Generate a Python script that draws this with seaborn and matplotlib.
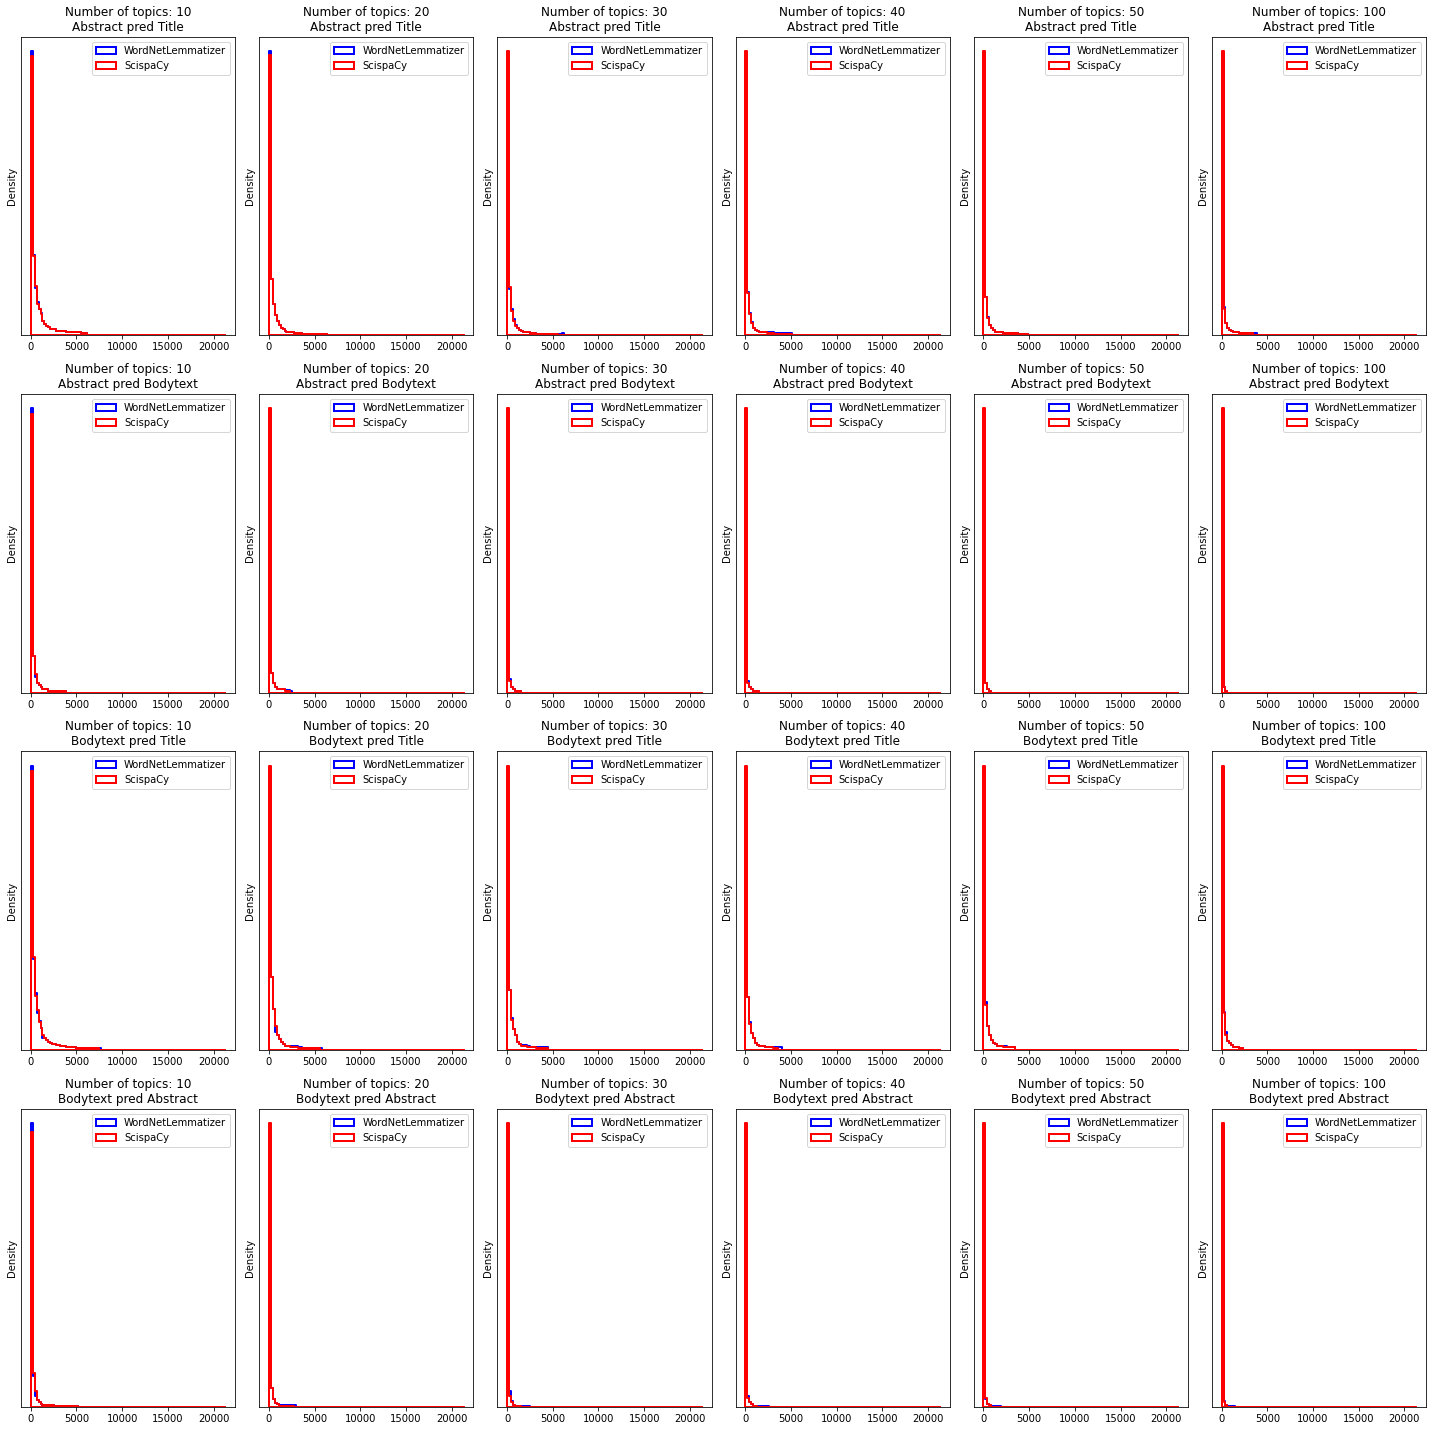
import matplotlib
matplotlib.use("Agg")
import matplotlib.pyplot as plt
import numpy as np
import seaborn as sns

topics = [10, 20, 30, 40, 50, 100]
tasks = [
    "Abstract pred Title",
    "Abstract pred Bodytext",
    "Bodytext pred Title",
    "Bodytext pred Abstract",
]
max_value = 21300
n_bins = 100

# relative height per bin (first bins only, all later bins are ~0)
wordnet_abs_title = {
    10: [100, 28.2, 16.5, 11.6, 9.2, 7.7, 4.9, 3.9, 3.2, 2.8, 2.1, 2.1, 2.1, 1.4, 1.4, 1.4, 1.4, 1.4,
         1.1, 1.1, 1.1, 1.1, 1.1, 1.1, 1.1, 1.1, 0.7, 0.7, 0.7],
    20: [100, 19.7, 10.9, 7.0, 4.9, 3.5, 2.5, 2.1, 1.4, 1.1, 1.1, 1.1, 1.1, 0.7, 0.7, 0.7, 0.7,
         0.35, 0.35, 0.35, 0.35, 0.35, 0.35, 0.35, 0.35, 0.35, 0.35, 0.35, 0.35, 0.35],
    30: [99, 16.2, 9.2, 5.6, 3.5, 2.5, 1.8, 1.4, 1.1, 1.1, 1.1, 1.1, 0.7, 0.7, 0.7,
         0.35, 0.35, 0.35, 0.35, 0.35, 0.35, 0.35, 0.35, 0.35, 0.35, 0.35, 0.35, 0.35, 0.7],
    40: [99, 15.1, 7.7, 4.6, 2.5, 1.8, 1.4, 1.1, 1.1, 1.1, 1.1, 1.1, 1.1, 1.1, 1.1,
         0.7, 0.7, 0.7, 0.7, 0.7, 0.7, 0.7, 0.7, 0.7],
    50: [99, 13.4, 6.3, 3.5, 2.5, 1.8, 1.1, 1.1, 1.1, 1.1, 0.7, 0.7, 0.7, 0.7, 0.7, 0.7, 0.7, 0.7,
         0.5, 0.5, 0.5, 0.5, 0.5],
    100: [99, 9.9, 4.2, 2.5, 1.8, 1.4, 1.1, 1.1, 1.1, 0.7, 0.7, 0.7, 0.7, 0.7, 0.7, 0.7, 0.7, 0.7],
}
scispacy_abs_title = {
    10: [98.2, 27.8, 17.3, 10.9, 9.2, 7.4, 4.9, 3.9, 3.2, 2.8, 2.1, 2.1, 2.1, 1.4, 1.4, 1.4, 1.4, 1.4,
         1.1, 1.1, 1.1, 1.1, 1.1, 1.1, 1.1, 1.1, 0.7, 0.7, 0.7],
    20: [98.5, 19.7, 10.9, 7.0, 4.9, 3.5, 2.5, 2.1, 1.4, 1.1, 1.1, 1.1, 1.1, 0.7, 0.7, 0.7, 0.7,
         0.35, 0.35, 0.35, 0.35, 0.35, 0.35, 0.35, 0.35, 0.35, 0.35, 0.35, 0.35, 0.35],
    30: [100, 16.9, 8.5, 4.9, 3.2, 2.5, 1.8, 1.4, 1.1, 1.1, 1.1, 1.1, 0.7, 0.7, 0.7,
         0.35, 0.35, 0.35, 0.35, 0.35, 0.35, 0.35, 0.35, 0.35, 0.35, 0.35],
    40: [100, 14.8, 7.4, 4.2, 2.5, 1.8, 1.4, 1.1, 1.1, 1.1, 1.1, 0.7, 0.7, 0.7, 0.7,
         0.35, 0.35, 0.35, 0.35, 0.35, 0.35, 0.35, 0.35, 0.35],
    50: [100, 13.4, 6.0, 3.5, 2.5, 1.8, 1.1, 1.1, 1.1, 1.1, 0.7, 0.7, 0.7, 0.7, 0.7, 0.7, 0.7, 0.7,
         0.35, 0.35, 0.35, 0.35, 0.35],
    100: [100, 9.2, 4.2, 2.5, 1.8, 1.4, 1.1, 1.1, 1.1, 0.7, 0.7, 0.7, 0.7, 0.7, 0.7, 0.7],
}

wordnet_abs_body = {
    10: [100, 12.7, 5.6, 3.5, 2.5, 1.8, 1.4, 1.1, 1.1, 0.7, 0.7, 0.7, 0.7, 0.7, 0.7, 0.7, 0.7, 0.7],
    20: [99, 7.0, 3.5, 1.8, 1.4, 1.1, 1.1, 1.1, 0.9, 0.9, 0.9, 0.7],
    30: [99, 4.9, 2.1, 1.4, 0.7, 0.7, 0.7],
    40: [99, 3.9, 1.8, 1.1, 0.7, 0.7, 0.7],
    50: [99, 3.2, 1.4, 0.7],
    100: [99, 2.1, 0.7],
}
scispacy_abs_body = {
    10: [98, 12.7, 6.7, 3.5, 2.5, 1.8, 1.4, 1.1, 1.1, 0.7, 0.7, 0.7, 0.7, 0.7, 0.7, 0.7, 0.7, 0.7],
    20: [100, 7.0, 3.5, 1.8, 1.4, 1.1, 1.1, 1.1, 0.7, 0.7, 0.7],
    30: [100, 4.2, 2.1, 1.4, 0.7, 0.7, 0.7],
    40: [100, 3.5, 1.8, 1.1, 0.7, 0.7, 0.7],
    50: [100, 3.2, 1.4, 0.7],
    100: [100, 1.8, 0.7],
}

wordnet_body_title = {
    10: [100, 32.0, 20.1, 13.0, 10.2, 7.7, 4.2, 4.2, 3.5, 2.8, 2.5, 2.1, 2.1, 1.8, 1.8, 1.4, 1.4, 1.4,
         1.1, 1.1, 1.1, 1.1, 1.1, 0.7, 0.7, 0.7,
         0.5, 0.5, 0.5, 0.5, 0.5, 0.5, 0.5, 0.5, 0.5, 0.7],
    20: [99, 25.7, 14.4, 6.3, 5.3, 3.9, 2.8, 2.1, 1.4, 1.4, 1.4, 1.4, 1.4, 1.4, 1.4, 1.1, 1.1,
         0.7, 0.7, 0.7, 0.7, 0.7, 0.7, 0.7, 0.7, 0.7, 0.7],
    30: [99, 21.1, 11.3, 7.4, 5.3, 2.8, 2.1, 1.8, 1.8, 1.8,
         1.4, 1.4, 1.1, 1.1, 1.1, 1.1, 0.9, 0.9, 0.9, 0.9, 0.9],
    40: [99, 18.7, 9.9, 6.0, 4.2, 2.5, 1.8, 1.4, 1.4, 1.4, 1.1, 1.1, 1.1, 1.1,
         0.9, 0.9, 0.9, 0.9, 0.9],
    50: [99, 16.9, 8.5, 5.3, 3.5, 2.5, 2.1, 1.4, 1.4, 1.4, 1.4, 1.4, 1.1, 1.1, 1.1, 1.1],
    100: [99, 13.4, 6.3, 3.2, 2.5, 1.8, 1.1, 1.1, 1.1, 0.7, 0.7],
}
scispacy_body_title = {
    10: [98.2, 32.7, 19.0, 14.1, 9.9, 7.7, 5.3, 4.2, 3.5, 2.8, 2.5, 2.1, 2.1, 1.8, 1.8, 1.4, 1.4, 1.4,
         1.1, 1.1, 1.1, 1.1, 1.1, 0.7, 0.7, 0.7,
         0.5, 0.5, 0.5, 0.5, 0.5, 0.5, 0.5, 0.5, 0.5],
    20: [100, 25.7, 14.4, 8.5, 5.3, 3.9, 2.8, 2.1, 1.4, 1.4, 1.4, 1.1, 1.1, 1.1, 1.1,
         0.7, 0.7, 0.7, 0.7, 0.7, 0.7, 0.7, 0.7, 0.7, 0.7, 0.7],
    30: [100, 21.1, 10.6, 7.4, 5.3, 2.8, 2.1, 1.4, 1.4, 1.4, 1.1, 1.1, 1.1, 1.1, 1.1,
         0.7, 0.7, 0.7, 0.7, 0.7, 0.7],
    40: [100, 18.7, 9.2, 6.0, 4.2, 2.5, 1.8, 1.4, 1.4, 1.4, 1.1, 1.1, 1.1, 1.1, 0.7, 0.7, 0.7],
    50: [100, 15.8, 8.5, 5.3, 3.5, 2.5, 2.1, 1.4, 1.4, 1.4, 1.1, 1.1, 1.1, 1.1, 1.1, 1.1],
    100: [100, 13.0, 5.3, 3.2, 2.5, 1.8, 1.1, 1.1, 1.1, 0.7, 0.7],
}

wordnet_body_abs = {
    10: [100, 10.9, 3.9, 2.5, 1.8, 1.1, 0.7, 0.7, 0.7, 0.7, 0.7, 0.7,
         0.5, 0.5, 0.5, 0.5, 0.5, 0.5, 0.5, 0.5, 0.5, 0.5, 0.5, 0.5],
    20: [99, 6.7, 2.8, 1.4, 1.1, 0.6, 0.6, 0.6, 0.6, 0.6, 0.6, 0.6, 0.6, 0.6],
    30: [99, 5.6, 2.1, 0.7, 0.5, 0.5, 0.5, 0.5, 0.5, 0.5, 0.5, 0.5],
    40: [99, 3.9, 1.8, 1.1, 0.5, 0.5, 0.5, 0.5, 0.5, 0.5, 0.5, 0.5],
    50: [99, 2.8, 1.1, 0.7, 0.5, 0.5, 0.5, 0.5, 0.5],
    100: [99, 2.1, 0.7, 0.5, 0.5, 0.5, 0.5],
}
scispacy_body_abs = {
    10: [96.8, 12.0, 5.6, 2.5, 1.8, 1.1, 0.7, 0.7, 0.7, 0.7, 0.7, 0.7,
         0.5, 0.5, 0.5, 0.5, 0.5, 0.5, 0.5, 0.5, 0.5, 0.5, 0.5, 0.5],
    20: [100, 6.7, 2.8, 1.4, 1.1, 0.5, 0.5, 0.5, 0.5, 0.5, 0.5, 0.5, 0.5],
    30: [100, 3.9, 1.8, 0.7, 0.5, 0.5, 0.5],
    40: [100, 3.2, 1.8, 1.1, 0.5, 0.5],
    50: [100, 3.2, 1.1, 0.7],
    100: [100, 1.8, 0.7],
}

wordnet = dict(zip(tasks, [wordnet_abs_title, wordnet_abs_body, wordnet_body_title, wordnet_body_abs]))
scispacy = dict(zip(tasks, [scispacy_abs_title, scispacy_abs_body, scispacy_body_title, scispacy_body_abs]))

bin_width = max_value / n_bins
centers = (np.arange(n_bins) + 0.5) * bin_width

fig, axes = plt.subplots(4, 6, figsize=(1432 / 72, 1432 / 72), dpi=72)

for i, task in enumerate(tasks):
    for j, k in enumerate(topics):
        ax = axes[i, j]
        for name, vals, color in [
            ("WordNetLemmatizer", wordnet[task][k], "blue"),
            ("ScispaCy", scispacy[task][k], "red"),
        ]:
            w = np.zeros(n_bins)
            w[: len(vals)] = vals
            sns.histplot(
                x=centers,
                weights=w,
                binwidth=bin_width,
                binrange=(0, max_value),
                element="step",
                fill=True,
                color=color,
                facecolor="none",
                edgecolor=color,
                linewidth=2,
                label=name,
                ax=ax,
            )
        ax.set_title(f"Number of topics: {k}\n{task}")
        ax.set_ylabel("Density")
        ax.set_yticks([])
        ax.legend(loc="upper right")

fig.subplots_adjust(left=0.0147, right=0.9958, top=0.9742, bottom=0.0175,
                    wspace=0.112, hspace=0.197)
fig.savefig("out.png", dpi=72)
